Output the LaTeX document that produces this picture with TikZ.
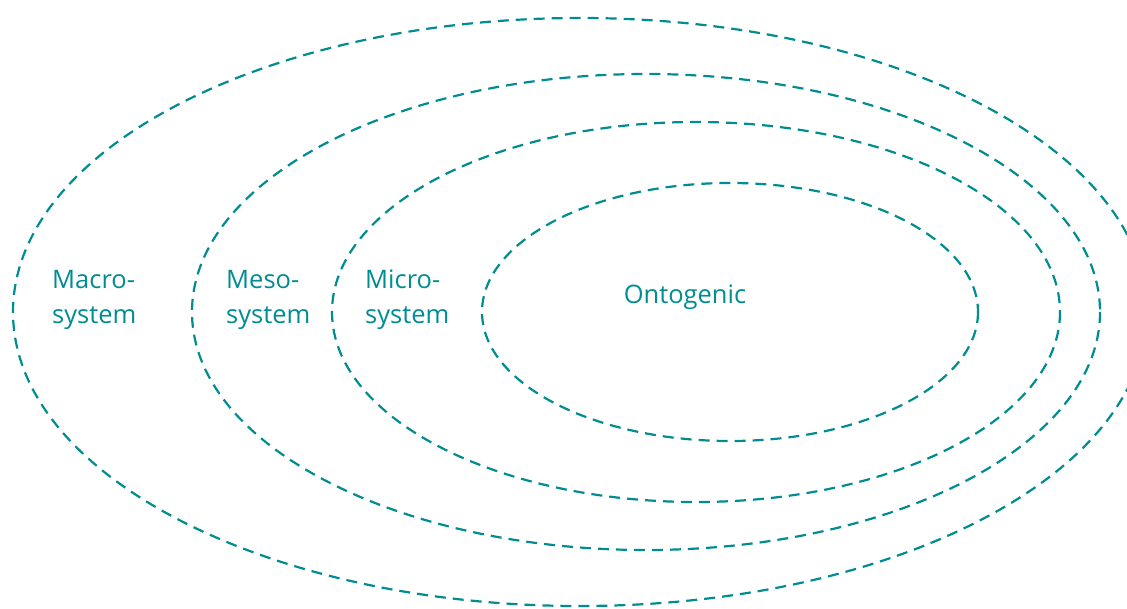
\documentclass[tikz,border=0pt]{standalone}
\usepackage{fontspec}
\setmainfont{Open Sans}
\definecolor{teal1}{RGB}{0,140,145}
\begin{document}
\begin{tikzpicture}[x=1pt,y=-1pt,
  ring/.style={draw=teal1,line width=2.2pt,dash pattern=on 11pt off 7pt},
  lab/.style={text=teal1,inner sep=0pt,align=left,font=\fontsize{25.5}{35}\selectfont}]
\useasboundingbox (0,0) rectangle (1127,608);
\begin{scope}
\clip (0,0) rectangle (1127,608);
\draw[ring] (580,312) ellipse [x radius=567,y radius=294];
\end{scope}
\draw[ring] (646,312) ellipse [x radius=454,y radius=238];
\draw[ring] (696,312) ellipse [x radius=364,y radius=190];
\draw[ring] (730,312) ellipse [x radius=248,y radius=129];
\node[lab,anchor=base west] (macro) at (52,323) {Macro-\\system};
\node[lab,anchor=base west] (meso) at (226,323) {Meso-\\system};
\node[lab,anchor=base west] (micro) at (365,323) {Micro-\\system};
\node[lab,anchor=base] (onto) at (685,303) {Ontogenic};
\end{tikzpicture}
\end{document}
